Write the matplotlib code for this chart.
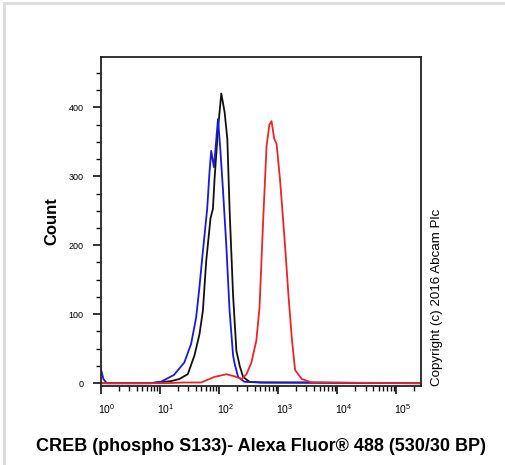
import matplotlib
matplotlib.use("Agg")
import matplotlib.pyplot as plt
import matplotlib.transforms as mtrans
from matplotlib.lines import Line2D
from matplotlib.ticker import LogLocator, MultipleLocator, NullFormatter, FixedLocator
import numpy as np

plt.rcParams['font.family'] = ['Liberation Sans', 'DejaVu Sans']
plt.rcParams['mathtext.default'] = 'regular'

# histogram traces (fluorescence intensity, count)
black_x = [1.0, 7.0, 15.3, 21.1, 29.4, 38.1, 46.4, 53.0, 60.3, 71.3, 78.4, 83.5,
           95.4, 108.6, 123.6, 137.4, 150.4, 171.8, 195.5, 222.6, 254.4, 325.7,
           521, 2500, 126000, 262144]
black_y = [0, 0, 3, 6, 13, 40, 71, 105, 177, 239, 253, 296,
           368, 420, 393, 354, 249, 128, 47, 25, 9, 2,
           1, 1, 0, 0]

blue_x = [1.0, 1.1, 1.25, 7.0, 9.5, 10.3, 17.2, 25.7, 33.5, 40.7, 45.8, 53.0,
          62.7, 68.6, 73.3, 81.5, 95.5, 104.4, 116, 132, 150, 172, 183, 209,
          268, 521, 262144]
blue_y = [20, 6, 0, 0, 2, 2, 12, 30, 57, 95, 135, 191,
          253, 306, 337, 313, 383, 340, 280, 200, 105, 40, 28, 9,
          2, 1, 0]

red_x = [1.0, 12.6, 25.4, 49.5, 82.5, 132, 181, 238, 290, 351, 426, 482,
         557, 634, 708, 770, 851, 936, 1069, 1301, 1486, 1691, 1927, 2505,
         3705, 262144]
red_y = [0, 0, 1, 1, 9, 13, 10, 6, 13, 30, 62, 110,
         239, 344, 375, 380, 355, 347, 296, 200, 128, 66, 19, 6,
         1, 0]

decades = [1, 10, 100, 1000, 10000, 100000]
decade_labels = [r'$10^{%d}$' % i for i in range(6)]

fig = plt.figure(figsize=(5.05, 4.65), dpi=100)
ax = fig.add_axes([0.2, 0.17, 0.634, 0.7075])

ax.plot(black_x, black_y, color='#111111', lw=1.3)
ax.plot(blue_x, blue_y, color='#1a1ad6', lw=1.3)
ax.plot(red_x, red_y, color='#e8262a', lw=1.3)

ax.set_xscale('log')
ax.set_xlim(1, 262144)
ax.set_ylim(-4, 473)

ax.xaxis.set_major_locator(FixedLocator(decades))
ax.set_xticklabels(decade_labels, fontsize=7.5)
ax.xaxis.set_minor_locator(LogLocator(base=10, subs=np.arange(2, 10), numticks=20))
ax.xaxis.set_minor_formatter(NullFormatter())

ax.yaxis.set_major_locator(FixedLocator([0, 100, 200, 300, 400]))
ax.yaxis.set_minor_locator(MultipleLocator(25))
ax.tick_params(axis='y', labelsize=6.5)

ax.tick_params(which='major', direction='out', length=5.5, width=1.2, color='#111111')
ax.tick_params(which='minor', direction='out', length=3.5, width=1.0, color='#111111')
ax.tick_params(axis='x', which='major', pad=6)
ax.tick_params(axis='y', which='major', pad=7)

# tick labels sit a little to the right of their ticks
offset = mtrans.ScaledTranslation(6 / 100, 0, fig.dpi_scale_trans)
for lab in ax.get_xticklabels():
    lab.set_transform(lab.get_transform() + offset)

for sp in ax.spines.values():
    sp.set_linewidth(1.3)
    sp.set_color('#222222')

ax.set_ylabel('Count', fontsize=12, fontweight='bold', labelpad=7)
ax.set_xlabel('CREB (phospho S133)- Alexa Fluor\u00ae 488 (530/30 BP)',
              fontsize=13, fontweight='bold', labelpad=16)

ax.text(1.05, 0.0, 'Copyright (c) 2016 Abcam Plc', transform=ax.transAxes,
        rotation=90, ha='center', va='bottom', fontsize=9.6)

# light grey frame along the top and left edges
fig.add_artist(Line2D([3.5 / 505, 3.5 / 505], [0, 1 - 3.5 / 465], color='#dddddd', lw=2.2))
fig.add_artist(Line2D([3.5 / 505, 1], [1 - 3.5 / 465, 1 - 3.5 / 465], color='#dddddd', lw=2.2))

fig.savefig('out.png', dpi=100)
